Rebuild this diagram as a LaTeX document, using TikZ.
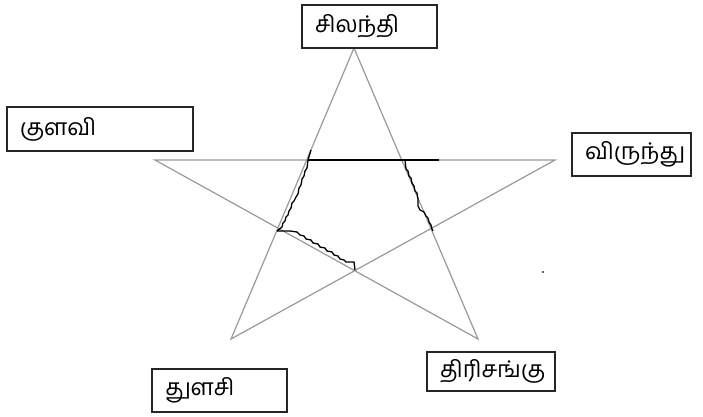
\documentclass[tikz,border=0pt]{standalone}
\usepackage{fontspec}
\newfontfamily\tamilfont[Script=Tamil]{Hind Madurai}
\begin{document}
\begin{tikzpicture}[
        x=1pt, y=-1pt,
        edge/.style={draw=black!40, line width=1.2pt},
        crack/.style={draw=black, line width=1.3pt, line join=miter},
        word/.style={draw=black!85, line width=1.1pt, inner xsep=13pt, inner ysep=0pt,
            align=left, font=\tamilfont\fontsize{23}{26}\selectfont}
    ]

    \useasboundingbox (0,0) rectangle (703,416);

    % star points
    \coordinate (T) at (354,48);
    \coordinate (L) at (155,160);
    \coordinate (R) at (555,160);
    \coordinate (BL) at (231,339);
    \coordinate (BR) at (478,339);

    \draw[edge] (T) -- (BL) -- (R) -- (L) -- (BR) -- cycle;

    % labels
    \node[word, text width=109pt, minimum height=43pt] (spider) at (369.5,26.5) {சிலந்தி};
    \node[word, text width=160pt, minimum height=44pt] (wasp) at (100,129) {குளவி};
    \node[word, text width=93pt, minimum height=43pt] (feast) at (631.5,154.5) {விருந்து};
    \node[word, text width=109pt, minimum height=43pt] (tulsi) at (219.5,390.5) {துளசி};
    \node[word, text width=102pt, minimum height=39pt] (trisanku) at (491,371.5) {திரிசங்கு};

    % cracks
    \coordinate (c1) at (308,160);
    \coordinate (c2) at (439,160);
    \coordinate (c3) at (405,160);
    \coordinate (c4) at (277,231);

    \draw[crack] (c1) -- (c2);
    \draw[crack] (311,150) -- (c1) -- (307,168) -- (305,171) -- (304,176) -- (302,179)
        -- (301,185) -- (299,188) -- (298,194) -- (296,197) -- (294,201) -- (292,203)
        -- (291,208) -- (289,211) -- (288,215) -- (286,217) -- (285,221) -- (283,223)
        -- (282,227) -- (c4);
    \draw[crack] (c4) -- (290,231) -- (297,232) -- (300,235) -- (304,236) -- (306,239)
        -- (311,240) -- (313,243) -- (318,244) -- (320,247) -- (325,248) -- (327,251)
        -- (332,252) -- (334,255) -- (338,256) -- (340,259) -- (344,260) -- (346,262)
        -- (354,262) -- (355,270);
    \draw[crack] (c3) -- (406,169) -- (408,171) -- (409,176) -- (411,178) -- (412,183)
        -- (414,186) -- (415,191) -- (417,193) -- (418,199) -- (418,206) -- (420,210)
        -- (424,212) -- (426,216) -- (428,218) -- (429,222) -- (431,225) -- (432,229)
        -- (433,231);

    \fill[black!60] (542,271) rectangle (544,273);
\end{tikzpicture}
\end{document}
